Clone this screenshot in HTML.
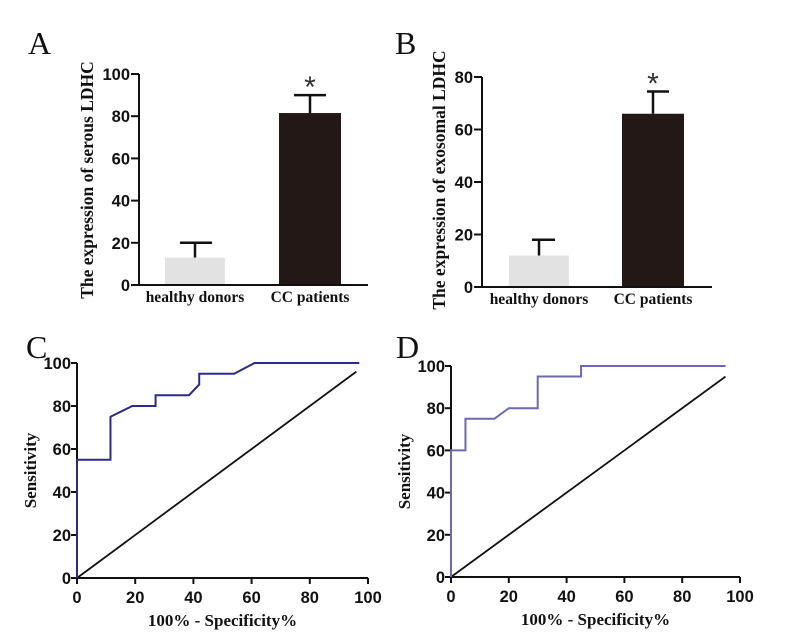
<!DOCTYPE html>
<html><head><meta charset="utf-8"><style>
html,body{margin:0;padding:0;background:#fff;}
svg{display:block;}
.tk{font-family:"Liberation Sans",Arial,sans-serif;font-weight:bold;font-size:16.5px;fill:#111;}
.ser{font-family:"Liberation Serif",serif;font-weight:bold;fill:#111;}
.let{font-family:"Liberation Serif",serif;font-size:32px;fill:#111;}
</style></head><body>
<svg id="fig" width="785" height="638" viewBox="0 0 785 638">
<text class="let" x="28" y="54">A</text>
<text class="let" x="395" y="54">B</text>
<text class="let" x="26" y="358">C</text>
<text class="let" x="396" y="358">D</text>
</svg>
<script>
const NS="http://www.w3.org/2000/svg";
const svg=document.getElementById('fig');
// Bar data
const barCats=["healthy donors","CC patients"];
const barAMeans=[13,81.5];
const barAErr=[20,90];
const barATicks=[0,20,40,60,80,100];
const barBMeans=[12,66];
const barBErr=[18,74.5];
const barBTicks=[0,20,40,60,80];
// ROC data
const rocCx=[0,0,11.5,11.5,19,27,27,38.5,42,42,54,61,97];
const rocCy=[0,55,55,75,80,80,85,85,90,95,95,100,100];
const rocDx=[0,0,5,5,15,20,30,30,45,45,95];
const rocDy=[0,60,60,75,75,80,80,95,95,100,100];
const rocTicks=[0,20,40,60,80,100];
const diagC=[0,96];
const diagD=[0,95];

function el(tag,attrs,name,parent){
  const e=document.createElementNS(NS,tag);
  for(const k in attrs)e.setAttribute(k,attrs[k]);
  
  
  (parent||svg).appendChild(e);return e;
}
function txt(s,attrs,name){const t=el('text',attrs,name);t.textContent=s;return t;}

function barPanel(p,means,errs,ticks,max,title,tag){
  const y=v=>p.y0-(v/max)*(p.y0-p.yTop);
  el('line',{x1:p.ax,y1:p.yTop,x2:p.ax,y2:p.y0,stroke:'#111','stroke-width':2},tag+'-y-axis');
  el('line',{x1:p.ax,y1:p.y0,x2:p.xEnd,y2:p.y0,stroke:'#111','stroke-width':2},tag+'-x-axis');
  ticks.forEach(t=>{
    el('line',{x1:p.ax-8,y1:y(t),x2:p.ax,y2:y(t),stroke:'#111','stroke-width':2},tag+'-y-tick');
    txt(String(t),{class:'tk',x:p.ax-9,y:y(t)+6,'text-anchor':'end'},tag+'-y-tick-label');
  });
  const fills=['#e2e2e2','#231816'];
  means.forEach((m,i)=>{
    const b=p.bars[i];
    const cx=(b[0]+b[1])/2;
    el('line',{x1:cx,y1:y(m),x2:cx,y2:y(errs[i]),stroke:'#111','stroke-width':2.5},tag+'-error-bar');
    el('line',{x1:b[2],y1:y(errs[i]),x2:b[3],y2:y(errs[i]),stroke:'#111','stroke-width':2.5},tag+'-error-cap');
    el('rect',{x:b[0],y:y(m),width:b[1]-b[0],height:p.y0-y(m)-1,fill:fills[i]},tag+'-bar-'+(i?'cc':'healthy'));
    txt(barCats[i],{class:'ser','font-size':'15.5px',x:cx,y:p.y0+17,'text-anchor':'middle'},tag+'-x-label');
  });
  const b=p.bars[1];
  txt('*',{x:(b[0]+b[1])/2,y:y(errs[1])+2,'font-family':'Liberation Sans,sans-serif','font-size':'30px',fill:'#333','text-anchor':'middle'},tag+'-significance-star');
  txt(title,{class:'ser','font-size':'17.5px',transform:`translate(${p.tx},${p.tcy}) rotate(-90)`,'text-anchor':'middle'},tag+'-y-axis-title');
}
barPanel({ax:139,y0:285,yTop:74,xEnd:368,tx:93,tcy:180,bars:[[165,225,180,212],[279,341,294,326]]},barAMeans,barAErr,barATicks,100,'The expression of  serous LDHC','a');
barPanel({ax:482,y0:287,yTop:77,xEnd:712,tx:445,tcy:180,bars:[[509,569,532,555],[622,684,647,669]]},barBMeans,barBErr,barBTicks,80,'The expression of  exosomal LDHC','b');

function rocPanel(p,xs,ys,diag,color,tag){
  const X=v=>p.ax+v/100*(p.x100-p.ax);
  const Y=v=>p.y0-v/100*(p.y0-p.y100);
  el('line',{x1:p.ax,y1:p.y100,x2:p.ax,y2:p.y0,stroke:'#111','stroke-width':2},tag+'-y-axis');
  el('line',{x1:p.ax,y1:p.y0,x2:p.x100,y2:p.y0,stroke:'#111','stroke-width':2},tag+'-x-axis');
  rocTicks.forEach(t=>{
    el('line',{x1:p.ax-6,y1:Y(t),x2:p.ax,y2:Y(t),stroke:'#111','stroke-width':2},tag+'-y-tick');
    txt(String(t),{class:'tk',x:p.ax-6,y:Y(t)+6,'text-anchor':'end'},tag+'-y-tick-label');
    el('line',{x1:X(t),y1:p.y0,x2:X(t),y2:p.y0+6,stroke:'#111','stroke-width':2},tag+'-x-tick');
    txt(String(t),{class:'tk',x:X(t),y:p.y0+25,'text-anchor':'middle'},tag+'-x-tick-label');
  });
  el('line',{x1:X(diag[0]),y1:Y(diag[0]),x2:X(diag[1]),y2:Y(diag[1]),stroke:'#111','stroke-width':1.8},tag+'-reference-line');
  el('polyline',{points:xs.map((x,i)=>X(x)+','+Y(ys[i])).join(' '),fill:'none',stroke:color,'stroke-width':2},tag+'-roc-curve');
  txt('100% - Specificity%',{class:'ser','font-size':'17px',x:(p.ax+p.x100)/2,y:p.y0+48,'text-anchor':'middle'},tag+'-x-axis-title');
  txt('Sensitivity',{class:'ser','font-size':'17px',transform:`translate(${p.tx},${(p.y0+p.y100)/2}) rotate(-90)`,'text-anchor':'middle'},tag+'-y-axis-title');
}
rocPanel({ax:77,x100:368,y0:578,y100:363,tx:36},rocCx,rocCy,diagC,'#2b2a8c','c');
rocPanel({ax:451,x100:740,y0:577,y100:366,tx:410},rocDx,rocDy,diagD,'#6b68b8','d');
</script>
</body></html>
